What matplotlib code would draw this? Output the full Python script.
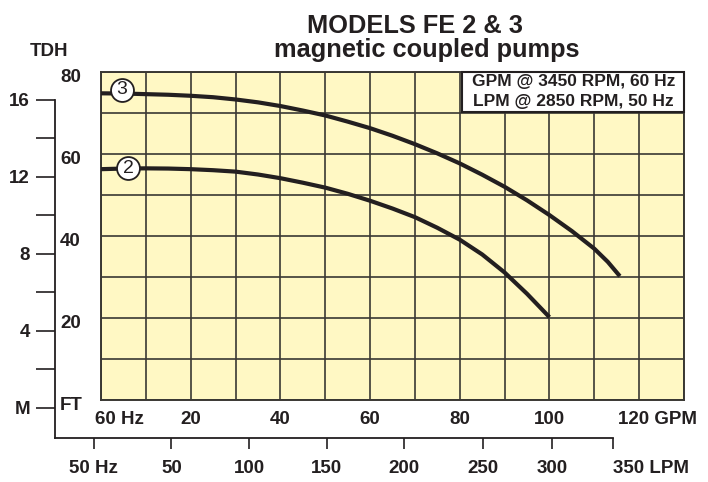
import matplotlib.pyplot as plt
import matplotlib.transforms as mtrans
from matplotlib.patches import Rectangle

plt.rcParams['font.family'] = ['Liberation Sans', 'DejaVu Sans']

# pump curves, GPM vs TDH in feet (read every 5 GPM)
gpm_fe3 = [0, 5, 10, 15, 20, 25, 30, 35, 40, 45, 50, 55, 60, 65, 70, 75, 80,
           85, 90, 95, 100, 105, 110, 113, 115.7]
tdh_fe3 = [74.8, 74.75, 74.6, 74.45, 74.2, 73.85, 73.3, 72.6, 71.7, 70.6, 69.4, 67.9,
           66.3, 64.45, 62.4, 60.15, 57.7, 54.95, 52.0, 48.7, 45.1, 41.2, 36.9, 33.7, 30.2]
gpm_fe2 = [0, 5, 10, 15, 20, 25, 30, 35, 40, 45, 50, 55, 60, 65, 70, 75, 80,
           85, 90, 95, 100]
tdh_fe2 = [56.3, 56.45, 56.5, 56.45, 56.3, 56.05, 55.7, 55.0, 54.1, 53.0, 51.8, 50.3,
           48.6, 46.7, 44.6, 42.0, 39.1, 35.5, 31.1, 25.9, 20.2]

model_names = ["3", "2"]
model_label_gpm = [4.7, 6.1]
model_label_tdh = [75.7, 56.5]

ft_ticks = [0, 20, 40, 60, 80]
ft_labels = ["FT", "20", "40", "60", "80"]
gpm_ticks = [20, 40, 60, 80, 100]
m_ticks = [0, 4, 8, 12, 16]
m_labels = ["M", "4", "8", "12", "16"]
m_minor = [2, 6, 10, 14]
lpm_labels = ["50 Hz", "50", "100", "150", "200", "250", "300", "350 LPM"]
# where the LPM ticks sit on the GPM scale
lpm_tick_gpm = [-1.6, 15.7, 33.0, 50.3, 67.6, 85.1, 100.5, 114.1]

ink = '#231f20'
W, H = 708, 482

def box(l, t, r, b):
    return [l / W, 1 - b / H, (r - l) / W, (b - t) / H]

def shift(ax, dx, dy, base):
    return base + mtrans.ScaledTranslation(dx / 100, dy / 100, ax.figure.dpi_scale_trans)

fig = plt.figure(figsize=(7.08, 4.82), dpi=100)

# outer frame with meter scale and LPM scale
ax2 = fig.add_axes(box(55, 100, 613, 438))
ax2.patch.set_visible(False)
ax2.set_xlim(-10.26, 114.15)
ax2.set_ylim(-1.575, 16)
for s in ['top', 'right']:
    ax2.spines[s].set_visible(False)
for s in ['left', 'bottom']:
    ax2.spines[s].set_linewidth(1.3)
    ax2.spines[s].set_color(ink)
ax2.set_yticks(m_ticks, m_labels)
ax2.set_yticks(m_minor, minor=True)
ax2.tick_params(axis='y', which='both', length=14, width=1.2, color=ink, pad=4,
                labelsize=13.5, labelcolor=ink)
ax2.set_xticks(lpm_tick_gpm, lpm_labels)
ax2.tick_params(axis='x', length=8, width=1.2, color=ink, pad=8,
                labelsize=13.5, labelcolor=ink)
for t in ax2.get_yticklabels() + ax2.get_xticklabels():
    t.set_fontweight('bold')
ax2.get_xticklabels()[-1].set_ha('left')

# main chart
ax = fig.add_axes(box(101, 72, 684, 400))
ax.set_facecolor('#fff8c4')
ax.set_xlim(0, 130)
ax.set_ylim(0, 80)
ax.set_xticks(range(0, 131, 10))
ax.set_xticklabels([str(v) if v in gpm_ticks else "" for v in range(0, 131, 10)])
ax.set_yticks(range(0, 81, 10))
ax.set_yticklabels([])
ax.tick_params(axis='both', length=0)
ax.tick_params(axis='x', pad=8, labelsize=13.5, labelcolor=ink)
for t in ax.get_xticklabels():
    t.set_fontweight('bold')
ax.grid(True, color='#3a3833', linewidth=1.2)
ax.set_axisbelow(True)
for s in ax.spines.values():
    s.set_linewidth(1.4)
    s.set_color('#3a3833')

ax.plot(gpm_fe3, tdh_fe3, color=ink, linewidth=3, solid_capstyle='butt',
        solid_joinstyle='round', zorder=3)
ax.plot(gpm_fe2, tdh_fe2, color=ink, linewidth=3, solid_capstyle='butt',
        solid_joinstyle='round', zorder=3)

ax.plot(model_label_gpm, model_label_tdh, 'o', ms=16.5, mfc='white', mec=ink, mew=1.3, zorder=4)
for name, x, y in zip(model_names, model_label_gpm, model_label_tdh):
    ax.text(x, y, name, ha='center', va='center', fontsize=14, color=ink, zorder=5)

# feet labels inside the frame
for v, lab in zip(ft_ticks, ft_labels):
    ax.text(0, v, lab, transform=shift(ax, -41, -6, ax.get_yaxis_transform()),
            ha='left', va='center', fontsize=13.5, fontweight='bold', color=ink)

ax.text(0, 0, "60 Hz", transform=shift(ax, -6, -20, ax.transData),
        ha='left', va='center', fontsize=13.5, fontweight='bold', color=ink)
ax.text(120, 0, "120 GPM", transform=shift(ax, -21, -20, ax.transData),
        ha='left', va='center', fontsize=13.5, fontweight='bold', color=ink, clip_on=False)

# speed note box
ax.add_patch(Rectangle((80.4, 70.2), 49.6, 9.8, facecolor='white', edgecolor=ink,
                       linewidth=1.5, zorder=6, clip_on=False))
ax.text(105.3, 77.6, "GPM @ 3450 RPM, 60 Hz", ha='center', va='center', fontsize=12.5,
        fontweight='bold', color=ink, zorder=7)
ax.text(105.3, 72.7, "LPM @ 2850 RPM, 50 Hz", ha='center', va='center', fontsize=12.5,
        fontweight='bold', color=ink, zorder=7)

fig.text(49.5 / W, 1 - 51 / H, "TDH", ha='center', va='center', fontsize=13.5,
         fontweight='bold', color=ink)
fig.text(415 / W, 1 - 33 / H, "MODELS FE 2 & 3", ha='center', va='baseline',
         fontsize=18.3, fontweight='bold', color=ink)
fig.text(427 / W, 1 - 57 / H, "magnetic coupled pumps", ha='center', va='baseline',
         fontsize=18.3, fontweight='bold', color=ink)

fig.savefig('out.png', dpi=100)
